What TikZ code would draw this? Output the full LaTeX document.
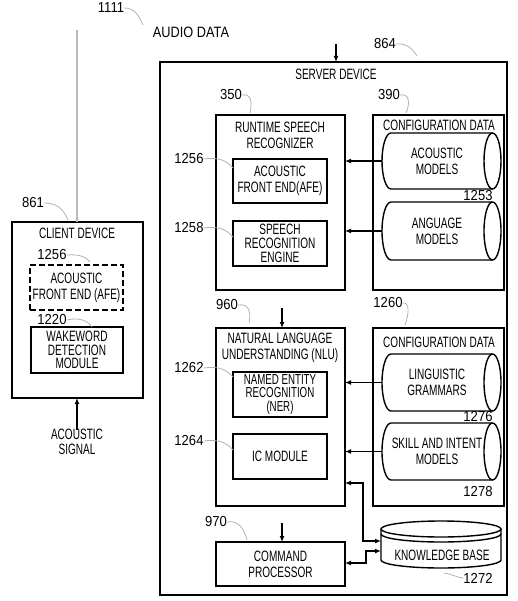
\documentclass[tikz,border=0pt]{standalone}
\usepackage{fontspec}
\setmainfont{Liberation Sans}[FakeStretch=0.67]
\newfontfamily\numfont{Liberation Sans}[FakeStretch=0.9]
\newfontfamily\widefont{Liberation Sans}[FakeStretch=0.85]
\usetikzlibrary{arrows.meta}
\newcommand\hcyl[4]{%
  \draw[cyl] ({#2-8.5},#3) -- ({#1+9},#3) arc[start angle=270,end angle=90,x radius=9,y radius={(#4-#3)/2}] -- ({#2-8.5},#4);
  \draw[cyl] ({#2-8.5},{(#3+#4)/2}) ellipse[x radius=8.5,y radius={(#4-#3)/2}];}
\begin{document}
\begin{tikzpicture}[x=1pt,y=-1pt,
  box/.style={draw, line width=1.4pt, inner sep=0pt, outer sep=0pt, align=center,
    font=\fontsize{15}{16}\selectfont},
  dbox/.style={box, dash pattern=on 6pt off 3pt},
  txt/.style={inner sep=0pt, align=center, font=\fontsize{15}{16}\selectfont},
  num/.style={inner sep=0pt, font=\numfont\fontsize{14.5}{16}\selectfont},
  lead/.style={draw=gray!60, line width=0.8pt},
  cyl/.style={line width=1.4pt},
  arr/.style={-{Latex[length=6pt,width=5pt]}, line width=1.2pt},
  darr/.style={{Latex[length=6pt,width=5pt]}-{Latex[length=6pt,width=5pt]}, line width=1.2pt}]
\useasboundingbox (0,0) rectangle (517,601);

% top labels
\node[num] (n1111) at (111,8) {1111};
\node[txt, font=\widefont\fontsize{15}{16}\selectfont] (audio) at (191,32) {AUDIO DATA};
\draw[lead] (n1111.east) .. controls (135,8) and (139,16) .. (143,25);

% server device
\node[box, minimum width=347, minimum height=533] (server) at (333.5,328.5) {};
\node[txt] (servert) at (336,74) {SERVER DEVICE};
\node[num] (n864) at (385,44) {864};
\draw[lead] (n864.east) .. controls (408,43) and (413,50) .. (417,56);
\coordinate (srvin) at (336,44);
\draw[arr] (srvin) -- (srvin |- server.north);

% client device
\node[box, minimum width=131, minimum height=176] (client) at (77.5,310) {};
\node[txt] (clientt) at (77,233) {CLIENT DEVICE};
\node[num] (n861) at (33,203) {861};
\draw[lead] (n861.east) .. controls (56,203) and (63,208) .. (68,220);
\coordinate (audiotop) at (77,30);
\draw[gray!55, line width=1.6pt] (audiotop) -- (audiotop |- client.north);
\node[dbox, minimum width=93, minimum height=45] (cafe) at (76.5,287.5) {ACOUSTIC\\FRONT END (AFE)};
\node[num] (n1256c) at (52,255) {1256};
\draw[lead] (n1256c.east) .. controls (80,254) and (86,257) .. (90,262);
\node[box, minimum width=92, minimum height=46, font=\fontsize{15}{13.5}\selectfont] (wake) at (77,350) {WAKEWORD\\DETECTION\\MODULE};
\node[num] (n1220) at (52,320) {1220};
\draw[lead] (n1220.east) .. controls (80,317) and (88,321) .. (92,327);
\node[txt, font=\fontsize{15}{15}\selectfont] (sig) at (77,442) {ACOUSTIC\\SIGNAL};
\draw[arr] ([yshift=-1]sig.north) -- (sig.north |- client.south);

% runtime speech recognizer
\node[box, minimum width=129, minimum height=175] (rsr) at (280.5,202.5) {};
\node[txt] (rsrt) at (280,135) {RUNTIME SPEECH\\RECOGNIZER};
\node[num] (n350) at (231,95) {350};
\draw[lead] (n350.east) .. controls (252,93) and (252,104) .. (250,113);
\node[box, minimum width=94, minimum height=44] (afe) at (280,181) {ACOUSTIC\\FRONT END(AFE)};
\node[num] (n1256) at (189,159) {1256};
\draw[lead] (n1256.east) .. controls (218,157) and (226,160) .. (233,168);
\node[box, minimum width=94, minimum height=45, font=\fontsize{15}{14}\selectfont] (sre) at (280,243.5) {SPEECH\\RECOGNITION\\ENGINE};
\node[num] (n1258) at (189,228) {1258};
\draw[lead] (n1258.east) .. controls (218,226) and (226,229) .. (233,237);

% configuration data 390
\node[box, minimum width=131, minimum height=175] (cfg1) at (438.5,202.5) {};
\node[txt] (cfg1t) at (439,125) {CONFIGURATION DATA};
\node[num] (n390) at (389,95) {390};
\draw[lead] (n390.east) .. controls (410,93) and (410,104) .. (406,113);
\node[txt, minimum width=119, minimum height=56] (cam) at (441.5,161) {};
\hcyl{382}{501}{133}{189}
\node[txt] (camt) at (437,161) {ACOUSTIC\\MODELS};
\node[num] (n1253) at (478,196) {1253};
\node[txt, minimum width=119, minimum height=58] (clm) at (441.5,231) {};
\hcyl{382}{501}{202}{260}
\node[txt] (clmt) at (437,231) {ANGUAGE\\MODELS};
\draw[arr] (cam.west) -- (cam.west -| rsr.east);
\draw[arr] (clm.west) -- (clm.west -| rsr.east);

% NLU
\node[box, minimum width=129, minimum height=178] (nlu) at (280.5,417) {};
\node[txt] (nlut) at (280,348) {NATURAL LANGUAGE\\UNDERSTANDING (NLU)};
\node[num] (n960) at (227,305) {960};
\draw[lead] (n960.east) .. controls (250,303) and (251,314) .. (249,323);
\coordinate (nluin) at (282,308);
\draw[arr] (nluin) -- (nluin |- nlu.north);
\node[box, minimum width=94, minimum height=45, font=\fontsize{14.5}{13.5}\selectfont] (ner) at (280,394.5) {NAMED ENTITY\\RECOGNITION\\(NER)};
\node[num] (n1262) at (189,368) {1262};
\draw[lead] (n1262.east) .. controls (218,366) and (226,369) .. (233,377);
\node[box, minimum width=94, minimum height=45] (ic) at (280,456.5) {IC MODULE};
\node[num] (n1264) at (189,441) {1264};
\draw[lead] (n1264.east) .. controls (218,439) and (226,442) .. (233,450);

% configuration data 1260
\node[box, minimum width=131, minimum height=178] (cfg2) at (438.5,417) {};
\node[txt] (cfg2t) at (439,342) {CONFIGURATION DATA};
\node[num] (n1260) at (388,303) {1260};
\draw[lead] (n1260.east) .. controls (410,302) and (409,314) .. (405,325);
\node[txt, minimum width=119, minimum height=57] (clg) at (441.5,382.5) {};
\hcyl{382}{501}{354}{411}
\node[txt] (clgt) at (437,382.5) {LINGUISTIC\\GRAMMARS};
\node[num] (n1276) at (478,417) {1276};
\node[txt, minimum width=119, minimum height=57] (csi) at (441.5,451.5) {};
\hcyl{382}{501}{423}{480}
\node[txt] (csit) at (437,451.5) {SKILL AND INTENT\\MODELS};
\node[num] (n1278) at (478,492) {1278};
\draw[arr] (clg.west) -- (clg.west -| nlu.east);
\draw[arr] (csi.west) -- (csi.west -| nlu.east);

% knowledge base
\node[txt, minimum width=120, minimum height=47] (kb) at (441,544.5) {};
\draw[cyl] (381,529) -- (381,560) arc[start angle=180,end angle=0,x radius=60,y radius=8] -- (501,529);
\draw[cyl] (441,529) ellipse[x radius=60,y radius=8];
\draw[cyl] (381,534) arc[start angle=180,end angle=0,x radius=60,y radius=8];
\node[txt] (kbt) at (442,555) {KNOWLEDGE BASE};
\node[num] (n1272) at (478,578) {1272};
\draw[lead] (n1272.west) .. controls (458,578) and (452,574) .. (444,573);

% command processor
\node[box, minimum width=129, minimum height=44] (cp) at (280.5,564) {COMMAND\\PROCESSOR};
\node[num] (n970) at (216,522) {970};
\draw[lead] (n970.east) .. controls (238,520) and (244,528) .. (247,540);
\coordinate (cpin) at (282,523);
\draw[arr] (cpin) -- (cpin |- cp.north);

% knowledge base links
\coordinate (j1) at (363,483);
\coordinate (ka) at (381,541);
\draw[darr] (nlu.east |- j1) -- (j1) |- (ka);
\coordinate (j2) at (366,563);
\coordinate (kb2) at (381,551);
\draw[darr] (cp.east |- j2) -- (j2) |- (kb2);
\end{tikzpicture}
\end{document}
